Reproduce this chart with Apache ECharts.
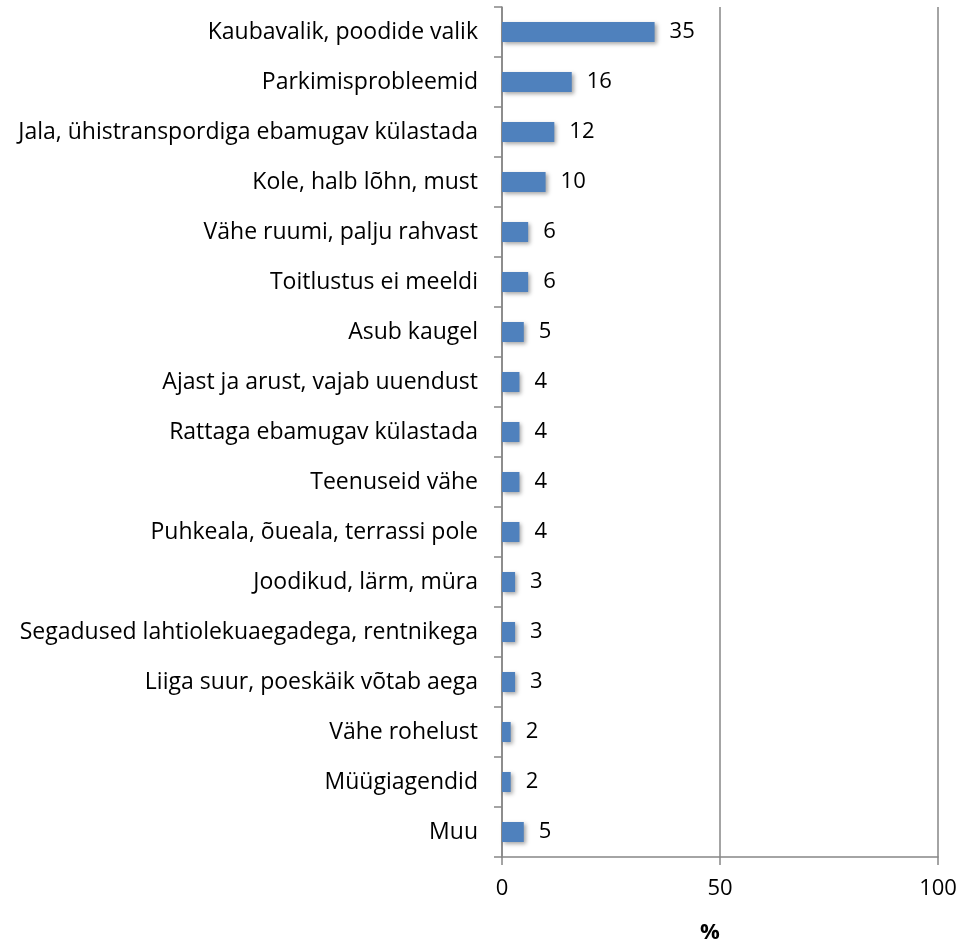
<!DOCTYPE html>
<html>
<head>
<meta charset="utf-8">
<script src="https://cdn.jsdelivr.net/npm/echarts@6/dist/echarts.min.js"></script>
<style>
  html, body { margin: 0; padding: 0; background: #fff; }
  #chart { width: 965px; height: 944px; }
</style>
</head>
<body>
<div id="chart"></div>
<script>
var categories = [
    "Kaubavalik, poodide valik",
    "Parkimisprobleemid",
    "Jala, ühistranspordiga ebamugav külastada",
    "Kole, halb lõhn, must",
    "Vähe ruumi, palju rahvast",
    "Toitlustus ei meeldi",
    "Asub kaugel",
    "Ajast ja arust, vajab uuendust",
    "Rattaga ebamugav külastada",
    "Teenuseid vähe",
    "Puhkeala, õueala, terrassi pole",
    "Joodikud, lärm, müra",
    "Segadused lahtiolekuaegadega, rentnikega",
    "Liiga suur, poeskäik võtab aega",
    "Vähe rohelust",
    "Müügiagendid",
    "Muu"
];
var values = [35, 16, 12, 10, 6, 6, 5, 4, 4, 4, 4, 3, 3, 3, 2, 2, 5];
var axisName = "%";

var chartDom = document.getElementById('chart');
var myChart = echarts.init(chartDom);
var font = "Open Sans";
var option;

option = {
    animation: false,
    grid: {
        left: 502,
        right: 27,
        top: 7,
        bottom: 87,
        outerBoundsMode: "none"
    },
    xAxis: {
        type: "value",
        min: 0,
        max: 100,
        interval: 50,
        name: axisName,
        nameLocation: "middle",
        nameGap: 65,
        nameTextStyle: {
            color: "#000",
            fontFamily: font,
            fontSize: 22,
            fontWeight: "bold",
            padding: [0, 20, 0, 0]
        },
        axisLine: { show: true, lineStyle: { color: "#868686", width: 1.5 } },
        axisTick: { show: true, length: 8, lineStyle: { color: "#868686", width: 1.5 } },
        axisLabel: {
            color: "#000",
            fontFamily: font,
            fontSize: 22,
            margin: 21
        },
        splitLine: {
            show: true,
            lineStyle: { color: "#868686", width: 1.5 }
        }
    },
    yAxis: {
        type: "category",
        inverse: true,
        data: categories,
        axisLine: { show: true, lineStyle: { color: "#868686", width: 1.5 } },
        axisTick: {
            show: true,
            length: 8,
            alignWithLabel: false,
            lineStyle: { color: "#868686", width: 1.5 }
        },
        axisLabel: {
            color: "#000",
            fontFamily: font,
            fontSize: 23,
            margin: 24
        }
    },
    series: [
        {
            type: "bar",
            data: values,
            barWidth: 20,
            itemStyle: {
                color: "#4F81BD",
                shadowColor: "rgba(0,0,0,0.35)",
                shadowBlur: 4,
                shadowOffsetX: 2,
                shadowOffsetY: 2
            },
            label: {
                show: true,
                position: "right",
                distance: 15,
                color: "#000",
                fontFamily: font,
                fontSize: 22
            }
        }
    ]
};

option && myChart.setOption(option);
</script>
</body>
</html>
